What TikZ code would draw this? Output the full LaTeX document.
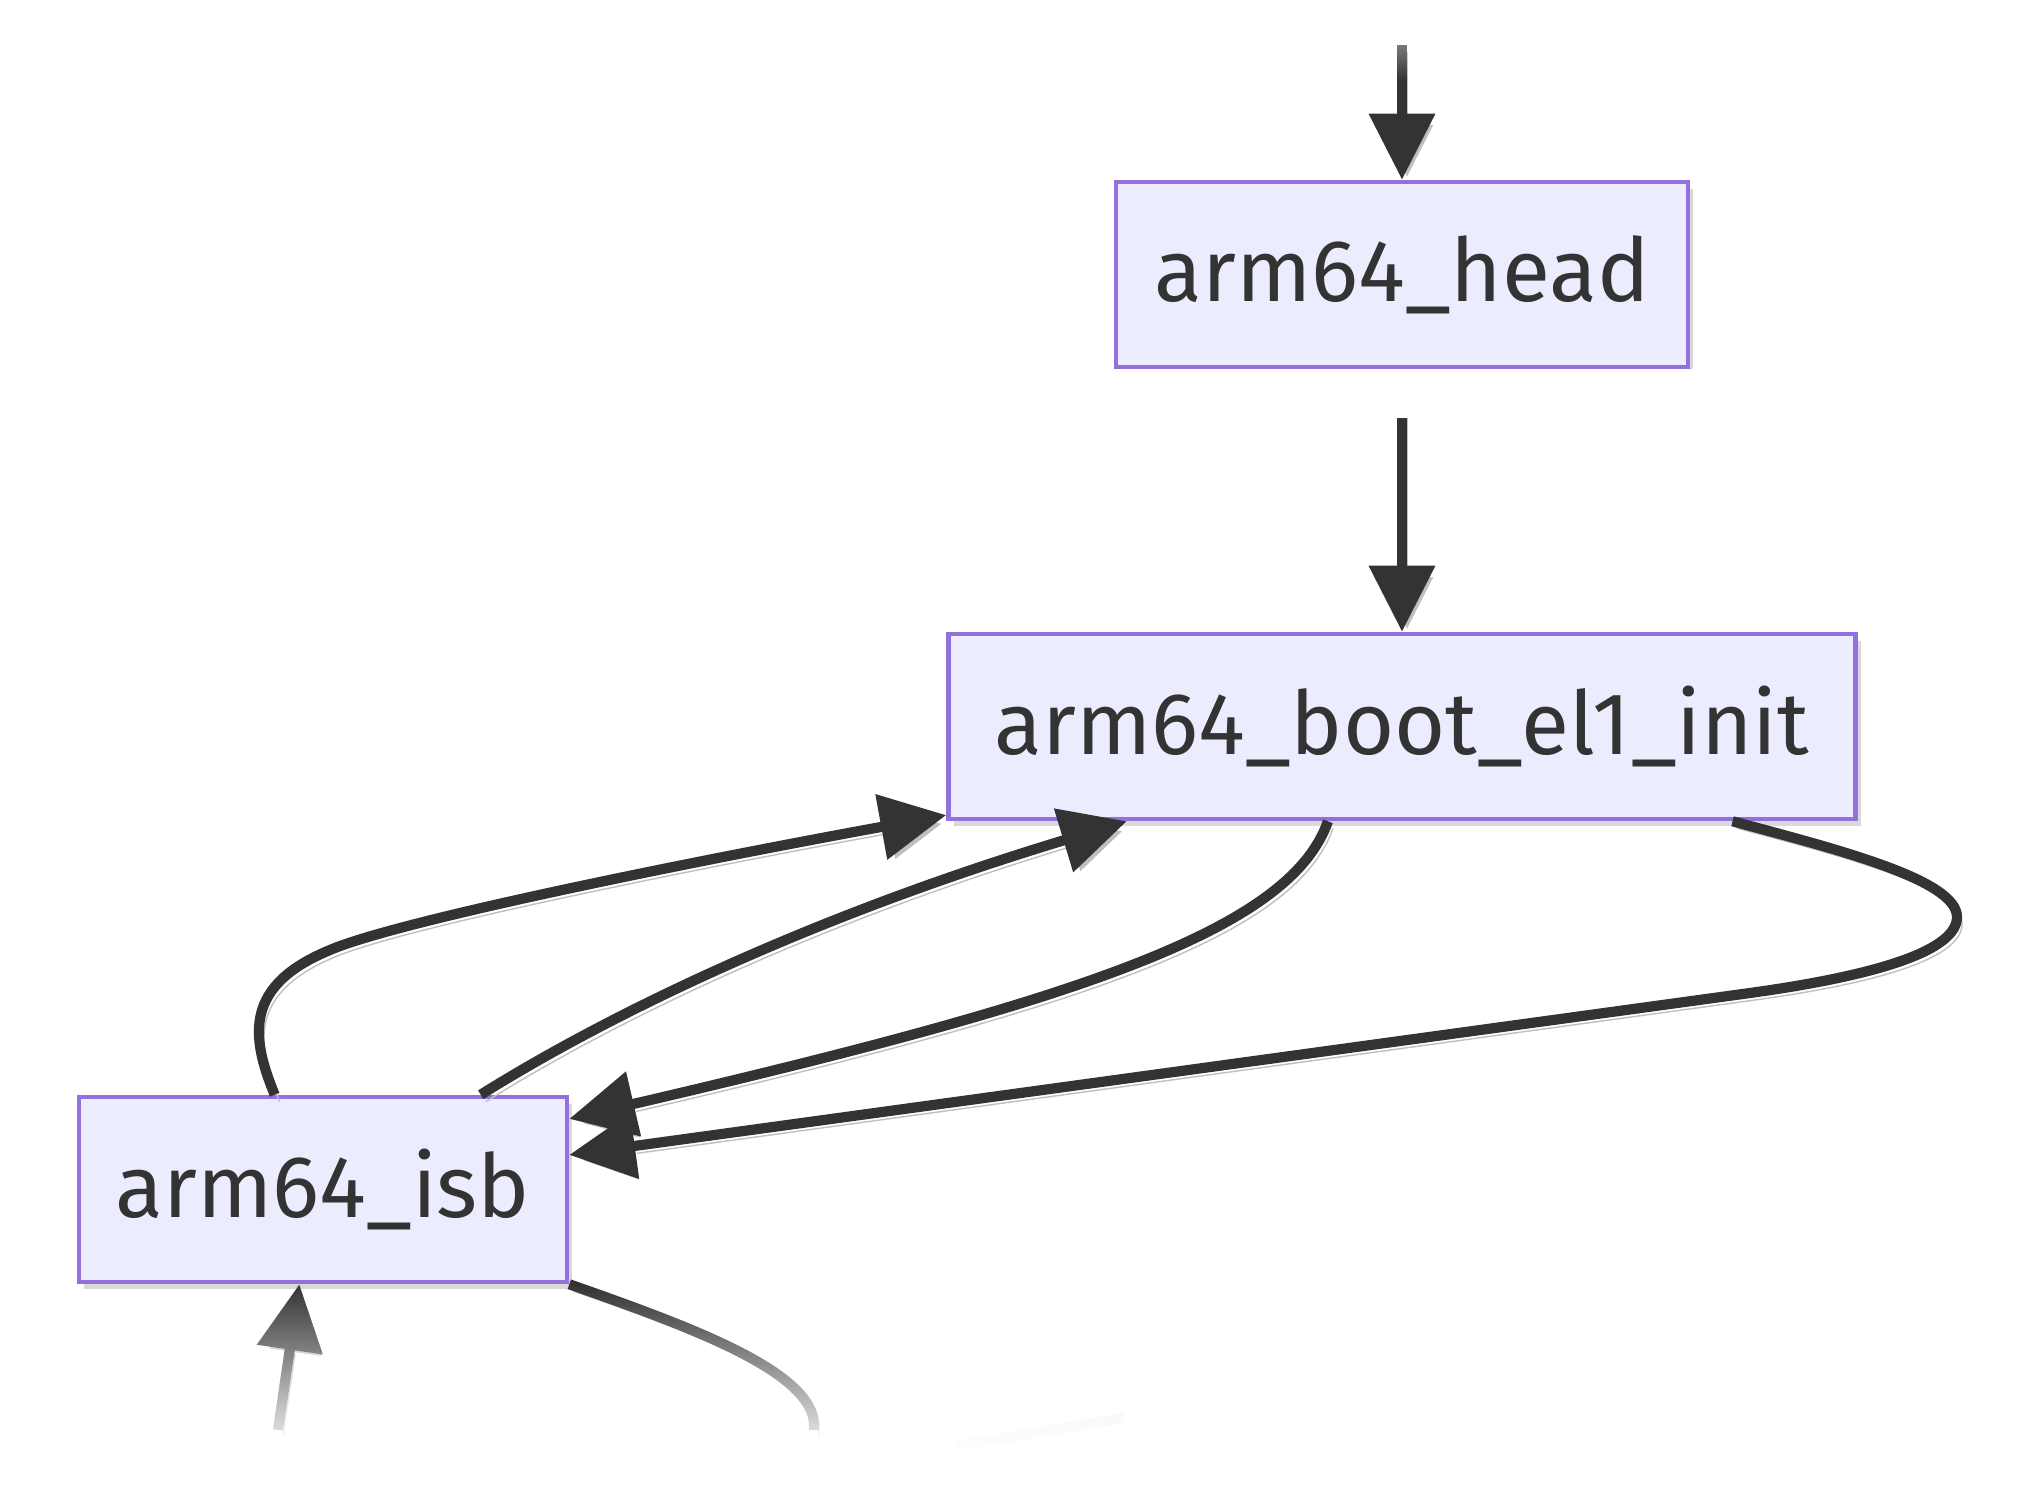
\documentclass[tikz,border=0pt]{standalone}
\usepackage{fontspec}
\setmainfont{Fira Sans}
\usetikzlibrary{arrows.meta,shadows,fadings}

\definecolor{boxfill}{HTML}{ECECFF}
\definecolor{boxline}{HTML}{9370DB}
\definecolor{edgeline}{HTML}{333333}

\tikzset{
  fnbox/.style={draw=boxline, fill=boxfill, line width=1.3pt, minimum height=1.85cm,
    text=edgeline, font=\fontsize{25}{30}\selectfont,
    drop shadow={shadow xshift=0.05cm, shadow yshift=-0.07cm, opacity=0.3}},
  call/.style={draw=edgeline, line width=2.9pt, -{Triangle[length=0.66cm,width=0.64cm]},
    preaction={draw=black!25, transform canvas={shift={(0.05,-0.07)}}}},
}

\begin{document}
\begin{tikzpicture}
        \useasboundingbox (0,0) rectangle (20.25,-14.86);
        % Fonctions
        \node[fnbox, minimum width=5.72cm] (head) at (14.02,-2.745) {arm64\_head};
        \node[fnbox, minimum width=9.07cm] (boot) at (14.02,-7.265) {arm64\_boot\_el1\_init};
        \node[fnbox, minimum width=4.88cm] (isb) at (3.23,-11.895) {arm64\_isb};
        % Bouts libres
        \coordinate (entry) at (14.02,-0.45);
        \coordinate (isbin) at (2.78,-14.3);
        \coordinate (isbout) at (8.14,-14.3);
        \coordinate (farA) at (9.56,-14.46);
        \coordinate (farB) at (11.24,-14.18);
        % Appels
        \draw[call] (entry) -- (head.north);
        \draw[call] (head) -- (boot);
        \draw[call] (isb.117) .. controls (2.5,-10.35) and (2.45,-9.85) .. (3.3,-9.5)
                .. controls (4.0,-9.2) and (7.0,-8.6) .. (boot.191);
        \draw[call] (isb.31) .. controls (6.0,-10.2) and (8.0,-9.2) .. (boot.199);
        \draw[call] (boot.232) .. controls (12.9,-9.3) and (10.8,-10.0) .. (isb.16);
        \draw[call] (boot.-16) .. controls (18.4,-8.5) and (19.57,-8.8) .. (19.57,-9.17)
                .. controls (19.57,-9.5) and (18.8,-9.75) .. (17.5,-9.93) -- (isb.8);
        \draw[call] (isbin) -- (isb.256);
        \draw[call, -] (isb.south east) .. controls (7.0,-13.3) and (8.2,-13.75) .. (isbout);
        \draw[black!8, line width=2.9pt] (farA) -- (farB);
        % Fondus
        \fill[white, path fading=south] (13,0.2) rectangle (15,-0.8);
        \fill[white] (11,-3.69) rectangle (17.4,-4.18);
        \fill[white, path fading=north] (1.5,-12.84) rectangle (13,-14.6);
        \fill[white] (1.5,-14.6) rectangle (13,-15.2);
    \end{tikzpicture}
\end{document}
